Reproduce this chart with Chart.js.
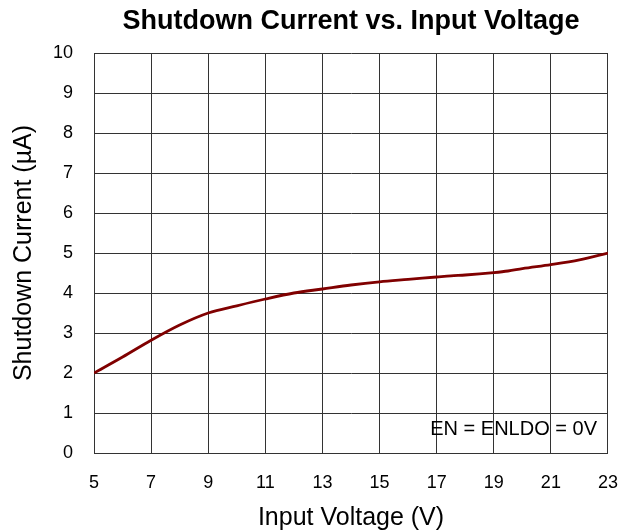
<!DOCTYPE html>
<html>
<head>
<meta charset="utf-8">
<script src="https://cdn.jsdelivr.net/npm/chart.js@4/dist/chart.umd.min.js"></script>
<style>
  html, body { margin: 0; padding: 0; background: #fff; }
  #wrap { width: 621px; height: 531px; }
</style>
</head>
<body>
<div id="wrap"><canvas id="chart"></canvas></div>
<script>
// Data
const voltages = [5, 6, 7, 8, 9, 10, 11, 12, 13, 14, 15, 16, 17, 17.5, 18, 19, 19.5, 20, 21, 22, 23];
const currents = [2.0, 2.4, 2.82, 3.2, 3.5, 3.68, 3.85, 4.0, 4.1, 4.2, 4.28, 4.34, 4.4, 4.43, 4.45, 4.51, 4.55, 4.61, 4.71, 4.83, 5.0];
const xTicks = [5, 7, 9, 11, 13, 15, 17, 19, 21, 23];
const yTicks = [0, 1, 2, 3, 4, 5, 6, 7, 8, 9, 10];
const noteText = 'EN = ENLDO = 0V';

const FONT = "'Liberation Sans', Arial, sans-serif";
Chart.defaults.font.family = FONT;
Chart.defaults.color = '#000';

// Draws the condition note in the lower right corner of the plot
const notePlugin = {
    id: 'note',
    afterDraw(chart) {
        const ctx = chart.ctx;
        const area = chart.chartArea;
        ctx.save();
        ctx.font = '20px ' + FONT;
        ctx.fillStyle = '#000';
        ctx.textAlign = 'right';
        ctx.textBaseline = 'middle';
        ctx.fillText(noteText, area.right - 11, area.bottom - 24);
        ctx.restore();
    }
};

// tick marks are kept invisible, they only make room next to the axes
const hiddenTicks = 'rgba(0,0,0,0)';

new Chart(document.getElementById('chart'), {
    type: 'line',
    data: {
        datasets: [{
            data: voltages.map((v, i) => ({ x: v, y: currents[i] })),
            borderColor: '#800000',
            borderWidth: 2.8,
            pointRadius: 0,
            cubicInterpolationMode: 'monotone',
            fill: false
        }]
    },
    options: {
        responsive: true,
        maintainAspectRatio: false,
        animation: false,
        layout: { padding: { left: 7, right: 13, top: 0, bottom: 0.5 } },
        plugins: {
            legend: { display: false },
            tooltip: { enabled: false },
            title: {
                display: true,
                fullSize: false,
                text: 'Shutdown Current vs. Input Voltage',
                font: { size: 27, weight: 'bold', lineHeight: 1.2 },
                color: '#000',
                padding: { top: 5.8, bottom: 14.8 }
            }
        },
        scales: {
            x: {
                type: 'linear',
                min: 5,
                max: 23,
                afterBuildTicks: axis => { axis.ticks = xTicks.map(v => ({ value: v })); },
                ticks: { font: { size: 18 }, color: '#000', padding: 3, maxRotation: 0 },
                grid: { color: '#333', lineWidth: 1, drawTicks: true, tickLength: 16.2, tickColor: hiddenTicks },
                border: { color: '#333', width: 1 },
                title: {
                    display: true,
                    text: 'Input Voltage (V)',
                    font: { size: 25, lineHeight: 1 },
                    color: '#000',
                    padding: { top: 8.7, bottom: 0 }
                }
            },
            y: {
                min: 0,
                max: 10,
                afterBuildTicks: axis => { axis.ticks = yTicks.map(v => ({ value: v })); },
                ticks: { font: { size: 18 }, color: '#000', padding: 5 },
                grid: { color: '#333', lineWidth: 1, drawTicks: true, tickLength: 16, tickColor: hiddenTicks },
                border: { color: '#333', width: 1 },
                title: {
                    display: true,
                    text: 'Shutdown Current (µA)',
                    font: { size: 25, lineHeight: 1 },
                    color: '#000',
                    padding: { top: 5, bottom: 11 }
                }
            }
        }
    },
    plugins: [notePlugin]
});
</script>
</body>
</html>
